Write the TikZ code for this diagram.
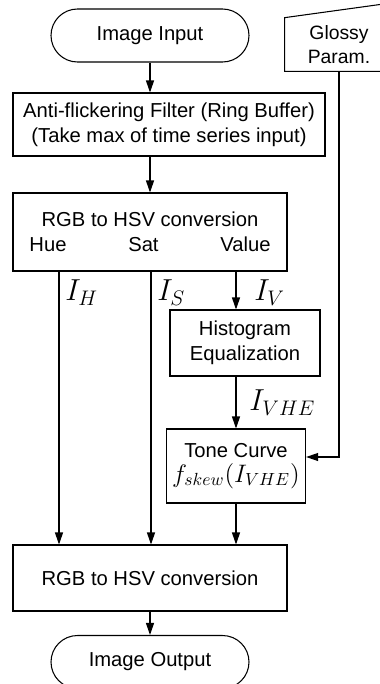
\documentclass[tikz,border=0pt]{standalone}
\usepackage{fontspec}
\setmainfont{Liberation Sans}
\usepackage{amsmath}
\usetikzlibrary{arrows.meta,calc}

\begin{document}
\begin{tikzpicture}[node distance=1cm, auto, >={Triangle[length=0.24cm,width=0.16cm]}]
\tikzstyle{block} = [draw, rectangle, text centered, font=\fontsize{11.5}{14}\selectfont, line width=0.6pt]
\tikzstyle{term} = [draw, rectangle, rounded corners=0.53cm, minimum width=3.96cm, minimum height=1.06cm, font=\fontsize{11.5}{14}\selectfont, line width=0.6pt]
\tikzstyle{line} = [draw, ->, line width=0.6pt]
\tikzstyle{lbl} = [font=\fontsize{16.5}{18}\selectfont, inner sep=0pt]

\useasboundingbox (0,0) rectangle (7.58,-13.68);

\node [term] (in) at (3.0,-0.71) {Image Input};
\node [block, below of=in, yshift=-0.78cm, xshift=0.38cm, minimum width=6.24cm, minimum height=1.26cm, align=center] (filter) {Anti-flickering Filter (Ring Buffer)\\(Take max of time series input)};
\node [block, below of=filter, yshift=-1.15cm, xshift=-0.38cm, minimum width=5.48cm, minimum height=1.56cm, align=center] (rgb) {RGB to HSV conversion\\\makebox[4.82cm]{Hue\hfill Sat\hfill Value}};
\node [block, below of=rgb, yshift=-1.22cm, xshift=1.9cm, minimum width=3.0cm, minimum height=1.32cm, align=center] (hist) {Histogram\\Equalization};
\node [block, below of=hist, yshift=-1.46cm, xshift=-0.18cm, minimum width=2.7cm, minimum height=1.48cm, align=center] (tone) {Tone Curve\\{\fontsize{14.5}{16}\selectfont$f_{skew}(I_{VHE})$}};
\node [block, below of=tone, yshift=-1.24cm, xshift=-1.72cm, minimum width=5.48cm, minimum height=1.32cm] (rgb2) {RGB to HSV conversion};
\node [term, below of=rgb2, yshift=-0.68cm] (out) {Image Output};
\node [below of=in, right of=in, xshift=2.78cm, yshift=0.82cm, minimum width=2.16cm, minimum height=1.06cm, align=center, font=\fontsize{11}{13.5}\selectfont] (gl) {Glossy\\Param.};
\draw [line width=0.6pt] (gl.south west) -- (gl.south east) -- ($(gl.north east)+(0,0.3)$) -- (gl.north west) -- cycle;

\coordinate (h) at ($(rgb.south)+(-1.82,0)$);
\coordinate (s) at ($(rgb.south)+(0.02,0)$);

\path [line] (in) -- (in |- filter.north);
\path [line] (in |- filter.south) -- (rgb);
\path [line] (h) -- (h |- rgb2.north);
\path [line] (s) -- (s |- rgb2.north);
\path [line] (tone.north |- rgb.south) -- (tone.north |- hist.north);
\path [line] (tone.north |- hist.south) -- (tone);
\path [line] (tone) -- (tone |- rgb2.north);
\path [line] (rgb2) -- (out);
\path [line] (gl) |- ($(tone.east)+(0,0.18)$);

\node [lbl, anchor=north west] at ($(h)+(0.12,-0.16)$) {$I_H$};
\node [lbl, anchor=north west] at ($(s)+(0.12,-0.16)$) {$I_S$};
\node [lbl, anchor=north west] at ($(tone.north |- rgb.south)+(0.36,-0.16)$) {$I_V$};
\node [lbl, anchor=north west] at ($(tone.north |- hist.south)+(0.26,-0.26)$) {$I_{VHE}$};
\end{tikzpicture}
\end{document}
